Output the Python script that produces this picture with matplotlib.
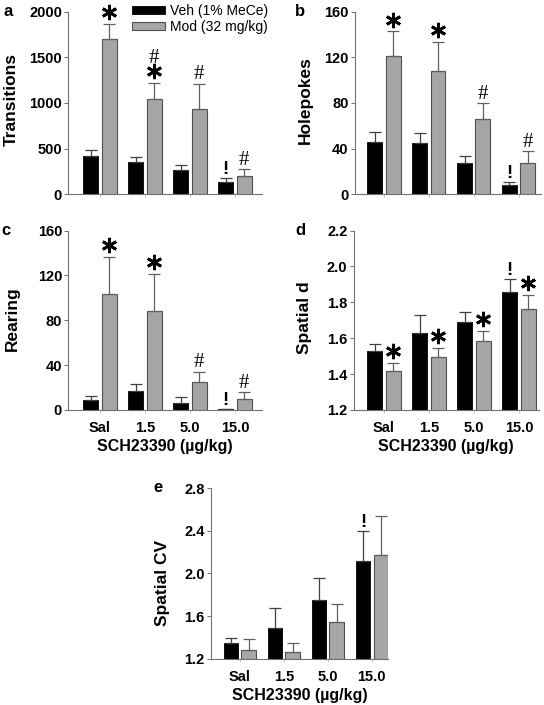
import numpy as np
import matplotlib
matplotlib.use("Agg")
import matplotlib.pyplot as plt
import matplotlib.transforms as mtransforms

plt.rcParams['font.family'] = ['Liberation Sans', 'DejaVu Sans']

doses = ['Sal', '1.5', '5.0', '15.0']
series_names = ['Veh (1% MeCe)', 'Mod (32 mg/kg)']

# a: Transitions
trans_veh = [423, 350, 266, 131]
trans_veh_err = [66, 62, 55, 51]
trans_mod = [1701, 1040, 934, 204]
trans_mod_err = [164, 183, 278, 70]

# b: Holepokes
hole_veh = [45.8, 44.7, 27.2, 8.2]
hole_veh_err = [8.5, 9.3, 6.4, 2.6]
hole_mod = [121.5, 107.7, 65.7, 27.2]
hole_mod_err = [21.3, 25.7, 14.3, 11.0]

# c: Rearing
rear_veh = [8.9, 17.2, 6.2, 0.9]
rear_veh_err = [3.6, 6.3, 5.7, 0.0]
rear_mod = [103.0, 88.0, 24.7, 10.1]
rear_mod_err = [33.5, 33.0, 9.5, 5.7]

# d: Spatial d
sd_veh = [1.530, 1.630, 1.693, 1.856]
sd_veh_err = [0.035, 0.100, 0.055, 0.075]
sd_mod = [1.418, 1.494, 1.585, 1.763]
sd_mod_err = [0.045, 0.054, 0.054, 0.080]

# e: Spatial CV
cv_veh = [1.344, 1.484, 1.747, 2.113]
cv_veh_err = [0.046, 0.191, 0.212, 0.287]
cv_mod = [1.281, 1.263, 1.544, 2.175]
cv_mod_err = [0.103, 0.084, 0.165, 0.365]

# significance marks: (group index, 0=Veh/1=Mod, symbols bottom->top)
marks_a = [(0, 1, '*'), (1, 1, '*#'), (2, 1, '#'), (3, 0, '!'), (3, 1, '#')]
marks_b = [(0, 1, '*'), (1, 1, '*'), (2, 1, '#'), (3, 0, '!'), (3, 1, '#')]
marks_c = [(0, 1, '*'), (1, 1, '*'), (2, 1, '#'), (3, 0, '!'), (3, 1, '#')]
marks_d = [(0, 1, '*'), (1, 1, '*'), (2, 1, '*'), (3, 0, '!'), (3, 1, '*')]
marks_e = [(3, 0, '!')]

VEH_C = 'black'
MOD_C = '#a6a6a6'
MOD_EDGE = '#505050'
AX_C = '#707070'

W, H = 544, 705
fig = plt.figure(figsize=(W / 100, H / 100), dpi=100)


def px_rect(x0, y0, x1, y1):
    return [x0 / W, 1 - y1 / H, (x1 - x0) / W, (y1 - y0) / H]


def panel(rect, xlim, veh, veh_err, mod, mod_err, ylim, yticks, fmt, marks, show_x):
    ax = fig.add_axes(rect)
    x = np.arange(len(doses))
    off, bw = 0.204, 0.333
    ax.bar(x - off, veh, bw, color=VEH_C, edgecolor='black', linewidth=0.6,
           yerr=[np.zeros(4), veh_err], capsize=4,
           error_kw=dict(ecolor='#404040', elinewidth=0.9, capthick=0.9),
           label=series_names[0], zorder=2)
    ax.bar(x + off, mod, bw, color=MOD_C, edgecolor=MOD_EDGE, linewidth=0.8,
           yerr=[np.zeros(4), mod_err], capsize=4,
           error_kw=dict(ecolor='#606060', elinewidth=0.9, capthick=0.9),
           label=series_names[1], zorder=2)
    ax.set_xlim(*xlim)
    ax.set_ylim(*ylim)
    ax.set_yticks(yticks)
    ax.set_yticklabels([fmt.format(t) for t in yticks])
    ax.set_xticks(x)
    if show_x:
        ax.set_xticklabels(doses)
        ax.set_xlabel('SCH23390 (µg/kg)', fontsize=11.5, fontweight='bold', labelpad=3)
    else:
        ax.set_xticklabels([])
    for s in ['top', 'right']:
        ax.spines[s].set_visible(False)
    for s in ['left', 'bottom']:
        ax.spines[s].set_color(AX_C)
        ax.spines[s].set_linewidth(0.8)
    ax.tick_params(axis='y', length=3, width=0.7, color=AX_C, pad=1.5, labelsize=10.5)
    ax.tick_params(axis='x', length=2, width=0.6, color='#c0c0c0', pad=6, labelsize=10.5)
    for lab in ax.get_xticklabels() + ax.get_yticklabels():
        lab.set_fontweight('bold')

    vals = [veh, mod]
    errs = [veh_err, mod_err]
    for g, s, syms in marks:
        xx = g + (off if s else -off)
        top = vals[s][g] + errs[s][g]
        lift = 3
        for sym in syms:
            if sym == '*':
                tr = mtransforms.offset_copy(ax.transData, fig=fig, x=0, y=lift + 5.5, units='points')
                ax.plot([xx], [top], marker=(6, 2, 0), ms=11, mew=2.0, color='black',
                        transform=tr, clip_on=False)
                lift += 11
            else:
                fam = 'Liberation Serif' if sym == '#' else 'Liberation Sans'
                fw = 'normal' if sym == '#' else 'bold'
                fs = 15 if sym == '#' else 13.5
                ax.annotate(sym, (xx, top), xytext=(0, lift), textcoords='offset points',
                            ha='center', va='baseline', fontsize=fs, family=fam,
                            fontweight=fw, annotation_clip=False)
                lift += 11
    return ax


ax_a = panel(px_rect(68.3, 11.7, 262, 194.3), (-0.704, 3.6), trans_veh, trans_veh_err,
             trans_mod, trans_mod_err, (0, 2000), [0, 500, 1000, 1500, 2000], '{:.0f}',
             marks_a, False)
ax_b = panel(px_rect(355, 11.7, 541, 194.3), (-0.647, 3.5), hole_veh, hole_veh_err,
             hole_mod, hole_mod_err, (0, 160), [0, 40, 80, 120, 160], '{:.0f}',
             marks_b, False)
ax_c = panel(px_rect(68.3, 230.5, 261.7, 410), (-0.704, 3.593), rear_veh, rear_veh_err,
             rear_mod, rear_mod_err, (0, 160), [0, 40, 80, 120, 160], '{:.0f}',
             marks_c, True)
ax_d = panel(px_rect(353.7, 230.5, 538.7, 410), (-0.673, 3.438), sd_veh, sd_veh_err,
             sd_mod, sd_mod_err, (1.2, 2.2), [1.2, 1.4, 1.6, 1.8, 2.0, 2.2], '{:.1f}',
             marks_d, True)
ax_e = panel(px_rect(211, 488, 387.7, 658.7), (-0.655, 3.36), cv_veh, cv_veh_err,
             cv_mod, cv_mod_err, (1.2, 2.8), [1.2, 1.6, 2.0, 2.4, 2.8], '{:.1f}',
             marks_e, True)

# y labels and panel letters (pixel positions)
for txt, px, py in [('Transitions', 11, 100), ('Holepokes', 305, 100), ('Rearing', 12, 319),
                    ('Spatial d', 305, 318), ('Spatial CV', 162, 583)]:
    fig.text(px / W, 1 - py / H, txt, rotation=90, ha='center', va='center',
             fontsize=12.5, fontweight='bold')
for txt, px, py in [('a', 8, 12), ('b', 300, 12), ('c', 6, 231), ('d', 300, 231), ('e', 158, 488)]:
    fig.text(px / W, 1 - py / H, txt, ha='center', va='center', fontsize=12, fontweight='bold')

ax_a.legend(loc='upper left', bbox_to_anchor=(132 / W, 1 - 4 / H), bbox_transform=fig.transFigure,
            frameon=False, fontsize=10, handlelength=2.4, handleheight=0.55, handletextpad=0.35,
            labelspacing=0.12, borderpad=0, borderaxespad=0)

fig.savefig('out.png', dpi=100)
